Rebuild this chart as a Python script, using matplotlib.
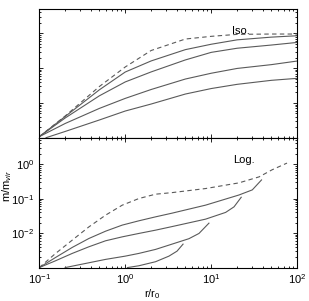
import numpy as np
import matplotlib.pyplot as plt
from matplotlib.ticker import LogLocator, NullFormatter

plt.rcParams['font.family'] = ['Liberation Sans', 'DejaVu Sans']
plt.rcParams['mathtext.fontset'] = 'custom'
plt.rcParams['mathtext.rm'] = 'Liberation Sans'
plt.rcParams['mathtext.it'] = 'Liberation Sans:italic'

# Верхня панель: ізотермічний профіль (Iso.)
r_iso = [0.1, 0.2, 0.5, 1.0, 2.0, 5.0, 10.0, 20.0, 50.0, 100.0]
iso_dashed = [1.07e-3, 4.2e-3, 0.0296, 0.108, 0.321, 0.686, 0.82, 0.935, 0.955, 0.955]
iso_c1 = [1.07e-3, 4.06e-3, 0.0238, 0.0773, 0.161, 0.340, 0.486, 0.650, 0.778, 0.853]
iso_c2 = [1.07e-3, 3.68e-3, 0.016, 0.0401, 0.0778, 0.172, 0.284, 0.373, 0.461, 0.548]
iso_c3 = [1.07e-3, 2.56e-3, 6.95e-3, 0.0135, 0.0243, 0.0486, 0.0713, 0.098, 0.126, 0.160]
r_iso_c4 = [0.12, 0.2, 0.5, 1.0, 2.0, 5.0, 10.0, 20.0, 50.0, 100.0]
iso_c4 = [1.0e-3, 1.51e-3, 3.23e-3, 5.85e-3, 9.29e-3, 0.018, 0.0259, 0.0342, 0.0446, 0.0509]

# Нижня панель: логарифмічний профіль (Log.)
r_log_dashed = [0.1, 0.155, 0.242, 0.378, 0.591, 0.922, 1.44, 2.25, 3.5, 8.6, 21.0, 36.0, 51.0, 76.0]
log_dashed = [1e-3, 2.58e-3, 6.27e-3, 0.0152, 0.0333, 0.0648, 0.101, 0.135, 0.150, 0.197,
              0.288, 0.43, 0.69, 1.08]
r_log_c1 = [0.1, 0.155, 0.242, 0.378, 0.591, 0.922, 1.44, 2.25, 3.5, 8.6, 21.0, 30.0, 38.4]
log_c1 = [1e-3, 1.97e-3, 3.85e-3, 7.0e-3, 0.0114, 0.0171, 0.0228, 0.0297, 0.038, 0.065,
          0.128, 0.18, 0.35]
r_log_c2 = [0.1, 0.155, 0.242, 0.378, 0.591, 0.922, 1.44, 2.25, 3.5, 8.6, 14.7, 18.4, 22.3]
log_c2 = [1e-3, 1.58e-3, 2.58e-3, 4.02e-3, 6.0e-3, 7.8e-3, 9.8e-3, 0.0122, 0.0155, 0.0255,
          0.040, 0.058, 0.110]
r_log_c3 = [0.2, 0.378, 0.591, 1.0, 1.44, 2.25, 3.22, 5.5, 7.2, 9.4]
log_c3 = [1e-3, 1.38e-3, 1.73e-3, 2.15e-3, 2.58e-3, 3.37e-3, 4.49e-3, 6.9e-3, 9.8e-3, 0.0195]
r_log_c4 = [1.06, 1.44, 2.25, 3.22, 4.0, 4.7]
log_c4 = [1e-3, 1.13e-3, 1.48e-3, 2.15e-3, 3.0e-3, 4.8e-3]

line_color = '#5a5a5a'
fs = 8
dash = (4, 3)

fig = plt.figure(figsize=(3.09, 3.01), dpi=100)
ax_top = fig.add_axes([0.127, 0.5425, 0.835, 0.4265])
ax_bot = fig.add_axes([0.127, 0.111, 0.835, 0.4315])

ax_top.plot(r_iso, iso_dashed, '--', color=line_color, lw=0.8, dashes=dash)
for y in (iso_c1, iso_c2, iso_c3):
    ax_top.plot(r_iso, y, '-', color=line_color, lw=0.8)
ax_top.plot(r_iso_c4, iso_c4, '-', color=line_color, lw=0.8)

ax_bot.plot(r_log_dashed, log_dashed, '--', color=line_color, lw=0.8, dashes=dash)
ax_bot.plot(r_log_c1, log_c1, '-', color=line_color, lw=0.8)
ax_bot.plot(r_log_c2, log_c2, '-', color=line_color, lw=0.8)
ax_bot.plot(r_log_c3, log_c3, '-', color=line_color, lw=0.8)
ax_bot.plot(r_log_c4, log_c4, '-', color=line_color, lw=0.8)

for ax in (ax_top, ax_bot):
    ax.set_xscale('log')
    ax.set_yscale('log')
    ax.set_xlim(0.1, 100)
    ax.xaxis.set_major_locator(LogLocator(base=10, numticks=10))
    ax.xaxis.set_minor_locator(LogLocator(base=10, subs=np.arange(2, 10), numticks=10))
    ax.yaxis.set_major_locator(LogLocator(base=10, numticks=10))
    ax.yaxis.set_minor_locator(LogLocator(base=10, subs=np.arange(2, 10), numticks=10))
    ax.tick_params(which='both', direction='in', top=True, right=True,
                   labelsize=fs, width=0.6)
    ax.tick_params(which='major', length=3)
    ax.tick_params(which='minor', length=1.5)
    for s in ax.spines.values():
        s.set_linewidth(0.8)

ax_top.set_ylim(1e-3, 10 ** 0.69)
ax_top.set_xticklabels([])
ax_top.xaxis.set_minor_formatter(NullFormatter())
ax_top.set_yticklabels([])
ax_top.yaxis.set_minor_formatter(NullFormatter())
ax_top.text(0.748, 0.831, 'Iso.', transform=ax_top.transAxes, fontsize=fs,
            va='center', ha='left')

ax_bot.set_ylim(1e-3, 10 ** 0.77)
ax_bot.set_yticks([1e-2, 1e-1, 1e0])
ax_bot.yaxis.set_minor_formatter(NullFormatter())
ax_bot.xaxis.set_minor_formatter(NullFormatter())
ax_bot.text(0.751, 0.828, 'Log.', transform=ax_bot.transAxes, fontsize=fs,
            va='center', ha='left')
ax_bot.set_xlabel('r/r$_0$', fontsize=fs)
ax_bot.xaxis.set_label_coords(0.437, -0.15)
ax_bot.set_ylabel('m/m$_{vir}$', fontsize=fs)
ax_bot.yaxis.set_label_coords(-0.098, 0.628)

fig.savefig('out.png', dpi=100)
